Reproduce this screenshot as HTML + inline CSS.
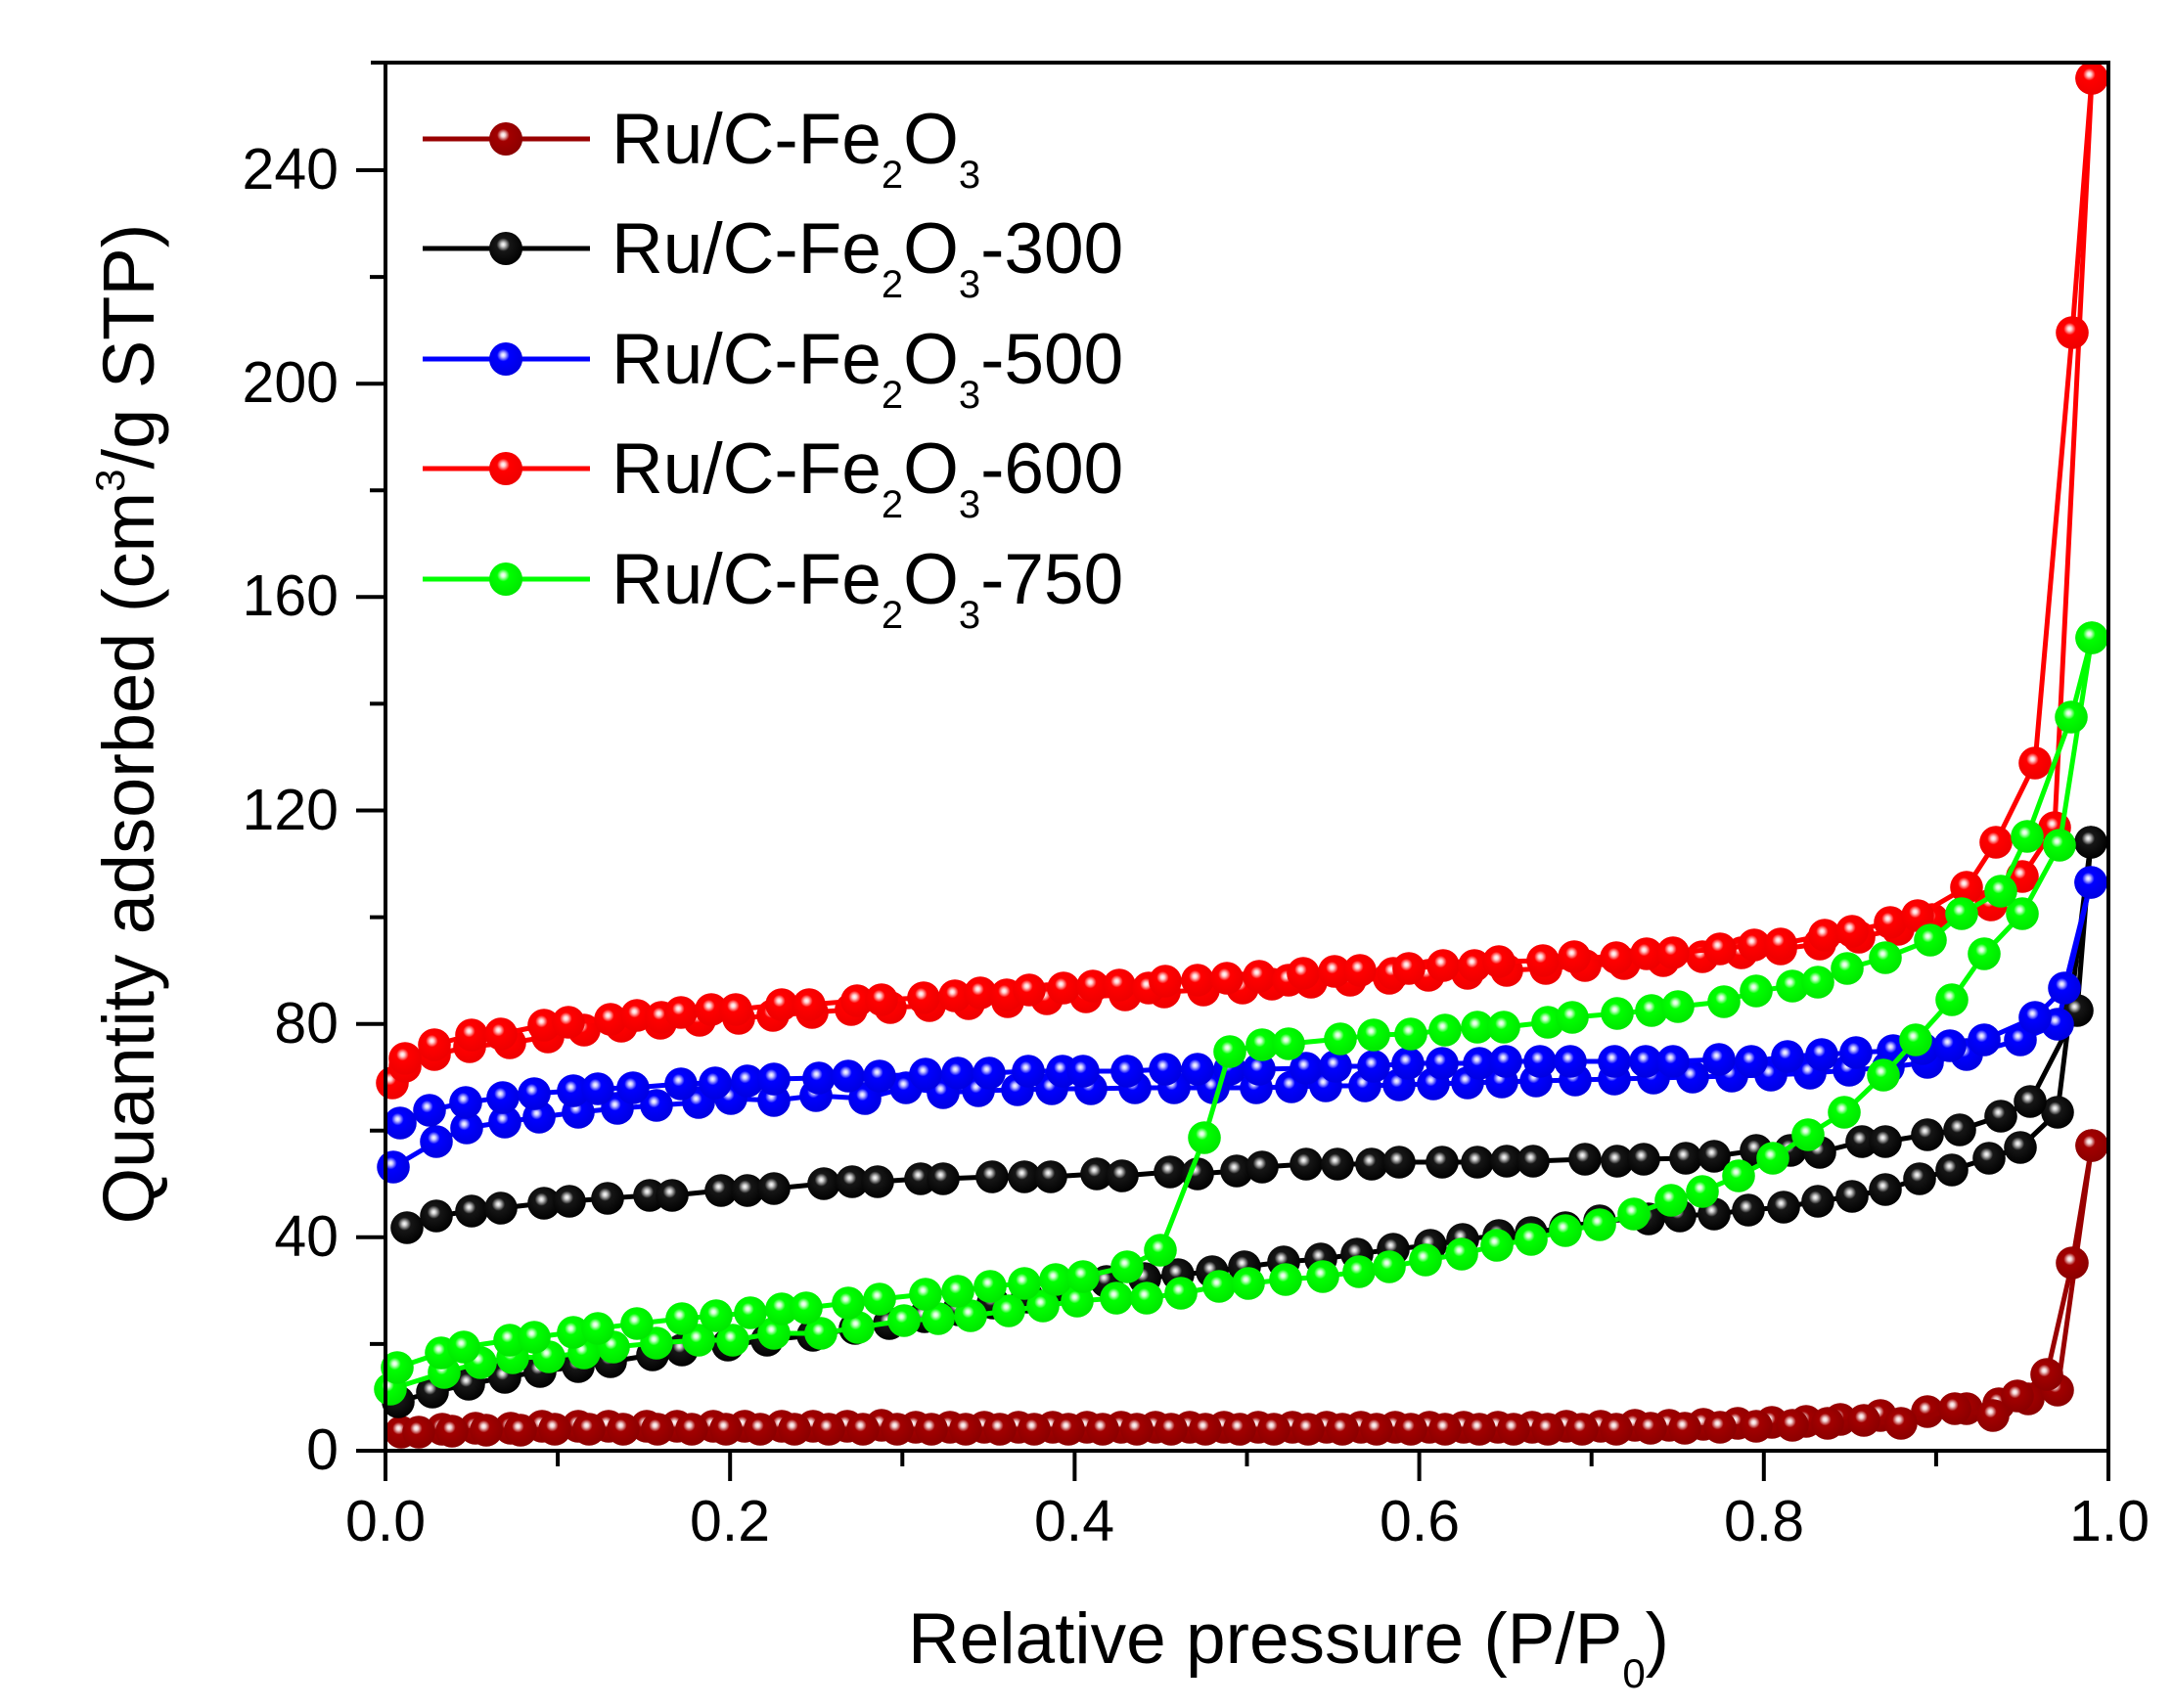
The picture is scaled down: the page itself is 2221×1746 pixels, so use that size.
<!DOCTYPE html>
<html>
<head>
<meta charset="utf-8">
<style>
html,body{margin:0;padding:0;background:#fff;}
svg{display:block;}
text{font-family:"Liberation Sans",Arial,sans-serif;fill:#000;}
</style>
</head>
<body>
<svg width="2221" height="1746" viewBox="0 0 2221 1746" xmlns="http://www.w3.org/2000/svg">
<defs>
  <radialGradient id="gdr" cx="0.43" cy="0.4" r="0.62" fx="0.42" fy="0.38">
    <stop offset="0" stop-color="#ffffff"/>
    <stop offset="0.1" stop-color="#f2d4d4"/>
    <stop offset="0.3" stop-color="#a20000"/>
    <stop offset="1" stop-color="#8a0000"/>
  </radialGradient>
  <radialGradient id="gk" cx="0.43" cy="0.4" r="0.62" fx="0.42" fy="0.38">
    <stop offset="0" stop-color="#ffffff"/>
    <stop offset="0.1" stop-color="#cfcfcf"/>
    <stop offset="0.32" stop-color="#161616"/>
    <stop offset="1" stop-color="#000000"/>
  </radialGradient>
  <radialGradient id="gb" cx="0.43" cy="0.4" r="0.62" fx="0.42" fy="0.38">
    <stop offset="0" stop-color="#ffffff"/>
    <stop offset="0.1" stop-color="#cacaff"/>
    <stop offset="0.3" stop-color="#0000ff"/>
    <stop offset="1" stop-color="#0000e0"/>
  </radialGradient>
  <radialGradient id="gr" cx="0.43" cy="0.4" r="0.62" fx="0.42" fy="0.38">
    <stop offset="0" stop-color="#ffffff"/>
    <stop offset="0.1" stop-color="#ffd2d2"/>
    <stop offset="0.3" stop-color="#ff0000"/>
    <stop offset="1" stop-color="#ee0000"/>
  </radialGradient>
  <radialGradient id="gg" cx="0.43" cy="0.4" r="0.62" fx="0.42" fy="0.38">
    <stop offset="0" stop-color="#ffffff"/>
    <stop offset="0.1" stop-color="#d2ffd2"/>
    <stop offset="0.3" stop-color="#00ff00"/>
    <stop offset="1" stop-color="#00e600"/>
  </radialGradient>
  <marker id="mdr" markerUnits="userSpaceOnUse" markerWidth="40" markerHeight="40" viewBox="-20 -20 40 40" refX="0" refY="0" overflow="visible"><circle r="16.8" fill="url(#gdr)"/></marker>
  <marker id="mk" markerUnits="userSpaceOnUse" markerWidth="40" markerHeight="40" viewBox="-20 -20 40 40" refX="0" refY="0" overflow="visible"><circle r="16.8" fill="url(#gk)"/></marker>
  <marker id="mb" markerUnits="userSpaceOnUse" markerWidth="40" markerHeight="40" viewBox="-20 -20 40 40" refX="0" refY="0" overflow="visible"><circle r="16.8" fill="url(#gb)"/></marker>
  <marker id="mr" markerUnits="userSpaceOnUse" markerWidth="40" markerHeight="40" viewBox="-20 -20 40 40" refX="0" refY="0" overflow="visible"><circle r="16.8" fill="url(#gr)"/></marker>
  <marker id="mg" markerUnits="userSpaceOnUse" markerWidth="40" markerHeight="40" viewBox="-20 -20 40 40" refX="0" refY="0" overflow="visible"><circle r="16.8" fill="url(#gg)"/></marker>
</defs>

<rect x="0" y="0" width="2221" height="1746" fill="#ffffff"/>

<!-- ===== Data series ===== -->
<g fill="none" stroke-width="5" stroke-linejoin="round" stroke-linecap="round">
  <!-- Ru/C-Fe2O3 (dark red) -->
  <polyline stroke="#990000" marker-start="url(#mdr)" marker-mid="url(#mdr)" marker-end="url(#mdr)" points="410,1464 452,1461 486,1460 522,1460 554,1458 591,1458 622,1458 661,1458 692,1458 729,1458 761,1458 799,1458 831,1458 866,1458 901,1457 936,1459 971,1459 1006,1459 1041,1459 1076,1459 1111,1459 1146,1459 1181,1459 1216,1459 1251,1459 1286,1459 1321,1459 1356,1459 1391,1459 1426,1459 1461,1459 1496,1459 1531,1459 1566,1459 1601,1458 1636,1458 1671,1457 1706,1457 1741,1456 1776,1455 1811,1454 1846,1453 1881,1451 1922,1447 1970,1443 2010,1440 2043,1435 2073,1430 2103,1421 2138,1171"/>
  <polyline stroke="#990000" marker-start="url(#mdr)" marker-mid="url(#mdr)" marker-end="url(#mdr)" points="2138,1171 2118,1291 2092,1405 2062,1427 2037,1447 1998,1440 1943,1455 1905,1452 1868,1455 1832,1457 1795,1458 1758,1459 1722,1460 1687,1460 1652,1461 1617,1461 1582,1461 1547,1461 1512,1461 1477,1461 1442,1461 1407,1461 1372,1461 1337,1461 1302,1461 1267,1461 1232,1461 1197,1461 1162,1461 1127,1461 1092,1461 1057,1461 1022,1461 987,1461 952,1461 917,1461 882,1461 847,1461 812,1461 777,1461 742,1461 707,1461 672,1461 637,1461 602,1461 567,1461 532,1462 497,1462 462,1463 428,1464"/>

  <!-- Ru/C-Fe2O3-300 (black) -->
  <polyline stroke="#000000" marker-start="url(#mk)" marker-mid="url(#mk)" marker-end="url(#mk)" points="407,1433 442,1423 479,1415 516,1408 552,1402 591,1397 624,1392 667,1385 697,1380 744,1375 784,1370 831,1365 874,1358 909,1353 945,1346 980,1339 1015,1332 1050,1326 1090,1318 1131,1310 1170,1307 1204,1303 1239,1300 1272,1295 1312,1290 1350,1287 1387,1282 1424,1277 1462,1273 1495,1267 1532,1263 1565,1260 1600,1255 1635,1248 1685,1246 1717,1243 1752,1241 1787,1237 1823,1234 1858,1228 1893,1223 1927,1216 1962,1205 1995,1196 2033,1184 2065,1173 2103,1137 2137,861"/>
  <polyline stroke="#000000" marker-start="url(#mk)" marker-mid="url(#mk)" marker-end="url(#mk)" points="416,1255 446,1243 482,1238 512,1235 556,1230 582,1228 621,1225 664,1222 687,1222 737,1217 764,1217 791,1215 842,1210 871,1208 897,1208 941,1205 964,1205 1014,1203 1047,1203 1074,1203 1121,1200 1147,1202 1196,1198 1224,1200 1264,1197 1290,1193 1335,1190 1367,1190 1402,1190 1430,1188 1474,1188 1510,1188 1540,1187 1567,1187 1620,1185 1653,1187 1680,1185 1723,1184 1752,1182 1795,1176 1830,1176 1860,1178 1903,1167 1927,1167 1970,1160 2003,1155 2045,1141 2075,1126 2123,1033 2137,861"/>

  <!-- Ru/C-Fe2O3-500 (blue) -->
  <polyline stroke="#0000ff" marker-start="url(#mb)" marker-mid="url(#mb)" marker-end="url(#mb)" points="402,1193 446,1167 477,1153 516,1147 551,1142 591,1137 631,1133 671,1130 714,1127 747,1123 791,1125 834,1120 884,1123 926,1112 964,1117 1000,1115 1040,1114 1075,1113 1115,1113 1160,1112 1200,1112 1240,1112 1284,1112 1320,1111 1355,1110 1395,1110 1430,1109 1465,1108 1500,1107 1535,1106 1570,1105 1610,1104 1650,1103 1690,1102 1730,1101 1770,1100 1810,1099 1850,1097 1890,1094 1930,1091 1970,1086 2010,1078 2065,1063 2103,1047 2137,902"/>
  <polyline stroke="#0000ff" marker-start="url(#mb)" marker-mid="url(#mb)" marker-end="url(#mb)" points="409,1148 439,1135 476,1127 514,1122 546,1118 586,1115 611,1113 647,1112 696,1108 731,1107 764,1105 791,1103 837,1102 867,1100 899,1100 946,1098 979,1097 1011,1097 1051,1095 1086,1095 1107,1095 1152,1095 1191,1093 1224,1093 1257,1093 1287,1093 1335,1092 1365,1090 1404,1090 1439,1087 1474,1087 1512,1087 1539,1085 1574,1085 1605,1085 1650,1085 1682,1085 1710,1085 1757,1083 1790,1085 1827,1080 1862,1078 1897,1076 1935,1074 1965,1072 1993,1069 2028,1063 2080,1040 2110,1010 2137,902"/>

  <!-- Ru/C-Fe2O3-600 (red) -->
  <polyline stroke="#ff0000" marker-start="url(#mr)" marker-mid="url(#mr)" marker-end="url(#mr)" points="401,1107 414,1090 444,1078 480,1070 521,1066 560,1060 597,1053 635,1049 675,1046 715,1043 755,1041 790,1038 830,1035 870,1032 910,1030 950,1028 990,1026 1030,1024 1070,1021 1110,1019 1150,1017 1190,1014 1230,1012 1270,1010 1300,1006 1340,1004 1380,1002 1420,1000 1460,997 1500,995 1540,992 1580,990 1620,987 1660,985 1700,982 1740,978 1780,974 1820,970 1860,965 1900,958 1940,950 1975,940 2035,925 2067,896 2100,846 2138,80"/>
  <polyline stroke="#ff0000" marker-start="url(#mr)" marker-mid="url(#mr)" marker-end="url(#mr)" points="414,1082 444,1068 482,1058 512,1057 556,1048 581,1045 624,1042 651,1038 676,1040 696,1035 727,1032 752,1032 799,1027 827,1027 876,1023 901,1022 944,1020 976,1018 1002,1015 1029,1017 1052,1012 1087,1010 1117,1008 1144,1007 1174,1010 1191,1003 1224,1002 1254,1000 1287,998 1317,1002 1332,995 1364,993 1390,992 1424,995 1440,990 1475,987 1507,987 1532,983 1577,982 1609,978 1652,979 1683,975 1710,974 1758,970 1793,966 1820,965 1865,956 1893,952 1932,943 1960,936 2010,907 2040,861 2080,780 2118,340 2138,80"/>

  <!-- Ru/C-Fe2O3-750 (green) -->
  <polyline stroke="#00ff00" marker-start="url(#mg)" marker-mid="url(#mg)" marker-end="url(#mg)" points="399,1420 454,1403 491,1393 524,1388 561,1387 597,1383 627,1377 671,1373 714,1370 749,1370 791,1363 839,1363 877,1357 924,1350 959,1348 992,1345 1031,1340 1066,1335 1101,1330 1141,1327 1172,1327 1207,1322 1246,1315 1276,1312 1314,1308 1352,1305 1389,1300 1420,1295 1457,1288 1494,1282 1530,1273 1565,1267 1600,1258 1635,1252 1670,1241 1708,1227 1740,1218 1777,1202 1812,1184 1848,1160 1885,1137 1925,1099 1958,1063 1995,1022 2028,975 2067,934 2105,864 2138,652"/>
  <polyline stroke="#00ff00" marker-start="url(#mg)" marker-mid="url(#mg)" marker-end="url(#mg)" points="406,1398 451,1383 474,1377 521,1370 546,1367 586,1362 611,1358 651,1353 697,1348 732,1345 767,1342 799,1338 824,1337 867,1332 899,1328 946,1323 979,1320 1012,1315 1047,1312 1079,1308 1107,1305 1152,1295 1186,1278 1231,1163 1257,1075 1290,1068 1317,1067 1370,1062 1404,1058 1442,1057 1477,1053 1510,1050 1537,1050 1582,1045 1607,1040 1653,1036 1688,1033 1715,1029 1762,1024 1795,1013 1832,1008 1858,1004 1888,990 1927,979 1973,961 2005,934 2045,911 2072,855 2117,733 2138,652"/>
</g>

<!-- ===== Axes ===== -->
<g stroke="#000" stroke-width="4" fill="none" stroke-linecap="square">
  <line x1="381" y1="64" x2="2155" y2="64"/>
  <line x1="394" y1="64" x2="394" y2="1512"/>
  <line x1="2155" y1="64" x2="2155" y2="1512"/>
  <line x1="366" y1="1483" x2="2155" y2="1483"/>
  <!-- y major ticks -->
  <line x1="366" y1="1264.8" x2="394" y2="1264.8"/>
  <line x1="366" y1="1046.7" x2="394" y2="1046.7"/>
  <line x1="366" y1="828.5" x2="394" y2="828.5"/>
  <line x1="366" y1="610.3" x2="394" y2="610.3"/>
  <line x1="366" y1="392.2" x2="394" y2="392.2"/>
  <line x1="366" y1="174" x2="394" y2="174"/>
  <!-- y minor ticks -->
  <line x1="380" y1="1373.9" x2="394" y2="1373.9"/>
  <line x1="380" y1="1155.8" x2="394" y2="1155.8"/>
  <line x1="380" y1="937.6" x2="394" y2="937.6"/>
  <line x1="380" y1="719.4" x2="394" y2="719.4"/>
  <line x1="380" y1="501.3" x2="394" y2="501.3"/>
  <line x1="380" y1="283.1" x2="394" y2="283.1"/>
  <!-- x major ticks -->
  <line x1="746.2" y1="1483" x2="746.2" y2="1512"/>
  <line x1="1098.4" y1="1483" x2="1098.4" y2="1512"/>
  <line x1="1450.6" y1="1483" x2="1450.6" y2="1512"/>
  <line x1="1802.8" y1="1483" x2="1802.8" y2="1512"/>
  <!-- x minor ticks -->
  <line x1="570.1" y1="1483" x2="570.1" y2="1497"/>
  <line x1="922.3" y1="1483" x2="922.3" y2="1497"/>
  <line x1="1274.5" y1="1483" x2="1274.5" y2="1497"/>
  <line x1="1626.7" y1="1483" x2="1626.7" y2="1497"/>
  <line x1="1978.9" y1="1483" x2="1978.9" y2="1497"/>
</g>

<!-- y tick labels -->
<g font-size="59" text-anchor="end">
  <text x="346" y="1502">0</text>
  <text x="346" y="1284">40</text>
  <text x="346" y="1066">80</text>
  <text x="346" y="848">120</text>
  <text x="346" y="629">160</text>
  <text x="346" y="411">200</text>
  <text x="346" y="193">240</text>
</g>
<!-- x tick labels -->
<g font-size="59" text-anchor="middle">
  <text x="394" y="1575">0.0</text>
  <text x="746" y="1575">0.2</text>
  <text x="1098" y="1575">0.4</text>
  <text x="1451" y="1575">0.6</text>
  <text x="1803" y="1575">0.8</text>
  <text x="2156" y="1575">1.0</text>
</g>

<!-- axis titles -->
<text x="1317" y="1700" font-size="73" text-anchor="middle">Relative pressure (P/P<tspan font-size="42" dy="25">0</tspan><tspan dy="-25">)</tspan></text>
<text transform="translate(157,740) rotate(-90)" x="0" y="0" font-size="74" text-anchor="middle">Quantity adsorbed (cm<tspan font-size="42" dy="-30">3</tspan><tspan dy="30">/g STP)</tspan></text>

<!-- ===== Legend ===== -->
<g stroke-width="5" fill="none">
  <line x1="432" y1="142" x2="603" y2="142" stroke="#990000"/>
  <line x1="432" y1="254" x2="603" y2="254" stroke="#000000"/>
  <line x1="432" y1="367" x2="603" y2="367" stroke="#0000ff"/>
  <line x1="432" y1="479" x2="603" y2="479" stroke="#ff0000"/>
  <line x1="432" y1="592" x2="603" y2="592" stroke="#00ff00"/>
</g>
<circle cx="517" cy="142" r="17" fill="url(#gdr)"/>
<circle cx="517" cy="254" r="17" fill="url(#gk)"/>
<circle cx="517" cy="367" r="17" fill="url(#gb)"/>
<circle cx="517" cy="479" r="17" fill="url(#gr)"/>
<circle cx="517" cy="592" r="17" fill="url(#gg)"/>
<g font-size="73">
  <text x="625" y="167">Ru/C-Fe<tspan font-size="40" dy="25">2</tspan><tspan dy="-25">O</tspan><tspan font-size="40" dy="25">3</tspan></text>
  <text x="625" y="279">Ru/C-Fe<tspan font-size="40" dy="25">2</tspan><tspan dy="-25">O</tspan><tspan font-size="40" dy="25">3</tspan><tspan dy="-25">-300</tspan></text>
  <text x="625" y="392">Ru/C-Fe<tspan font-size="40" dy="25">2</tspan><tspan dy="-25">O</tspan><tspan font-size="40" dy="25">3</tspan><tspan dy="-25">-500</tspan></text>
  <text x="625" y="504">Ru/C-Fe<tspan font-size="40" dy="25">2</tspan><tspan dy="-25">O</tspan><tspan font-size="40" dy="25">3</tspan><tspan dy="-25">-600</tspan></text>
  <text x="625" y="617">Ru/C-Fe<tspan font-size="40" dy="25">2</tspan><tspan dy="-25">O</tspan><tspan font-size="40" dy="25">3</tspan><tspan dy="-25">-750</tspan></text>
</g>
</svg>
</body>
</html>
